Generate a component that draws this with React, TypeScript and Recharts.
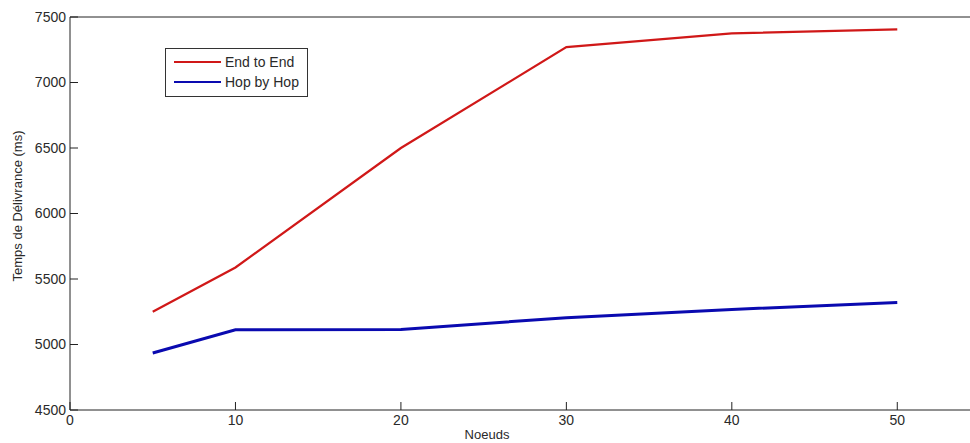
import { LineChart, Line, XAxis, YAxis, Legend } from "recharts";

const nodes = [5, 10, 20, 30, 40, 50];
const endToEnd = [5250, 5588, 6500, 7270, 7375, 7405];
const hopByHop = [4935, 5112, 5115, 5205, 5268, 5320];
const xTicks = [0, 10, 20, 30, 40, 50];
const yTicks = [4500, 5000, 5500, 6000, 6500, 7000, 7500];

const data = nodes.map((n, i) => ({ n, e2e: endToEnd[i], hbh: hopByHop[i] }));

const FONT = '"Liberation Sans", Arial, sans-serif';
const AXIS = "#222";
const TEXT = "#2a2a2a";
const RED = "#d01818";
const BLUE = "#0a0ab0";
const tickFont = { fontSize: 14, fontFamily: FONT, fill: TEXT };

function LegendBox(props: any) {
  const items = props.payload || [];
  return (
    <div
      style={{
        border: "1px solid #333",
        background: "#fff",
        padding: "3px 8px 4px 7px",
        fontFamily: FONT,
        fontSize: 14,
        color: TEXT,
        lineHeight: "20px",
      }}
    >
      {items.map((it: any) => (
        <div key={it.value} style={{ display: "flex", alignItems: "center", whiteSpace: "nowrap" }}>
          <svg width={52} height={20}>
            <line x1={1} y1={10} x2={48} y2={10} stroke={it.color} strokeWidth={2} />
          </svg>
          <span>{it.value}</span>
        </div>
      ))}
    </div>
  );
}

const titleStyle: React.CSSProperties = {
  position: "absolute",
  fontFamily: FONT,
  fontSize: 13,
  color: TEXT,
  whiteSpace: "nowrap",
  lineHeight: "15px",
};

export default function App() {
  return (
    <div
      style={{ position: "fixed", left: 0, top: 0, width: 970, height: 443, overflow: "hidden", background: "#fff" }}
    >
      <LineChart width={1000} height={443} data={data} margin={{ top: 16, right: 20, bottom: 0, left: 0 }}>
        {/* negative tickSize: MATLAB ticks pointing into the box */}
        <XAxis
          dataKey="n"
          type="number"
          domain={[0, 55]}
          ticks={xTicks}
          height={33}
          tickSize={-8}
          tickMargin={13}
          tickLine={{ stroke: AXIS }}
          axisLine={{ stroke: AXIS }}
          tick={tickFont}
        />
        <XAxis
          xAxisId="top"
          orientation="top"
          dataKey="n"
          type="number"
          domain={[0, 55]}
          ticks={xTicks}
          height={1}
          tickSize={-8}
          tickLine={{ stroke: AXIS }}
          axisLine={{ stroke: AXIS }}
          tick={false}
        />
        <YAxis
          type="number"
          domain={[4500, 7500]}
          ticks={yTicks}
          width={70}
          tickSize={-8}
          tickMargin={12}
          tickLine={{ stroke: AXIS }}
          axisLine={{ stroke: AXIS }}
          tick={tickFont}
        />
        <Legend
          layout="vertical"
          align="center"
          verticalAlign="middle"
          content={<LegendBox />}
          wrapperStyle={{ top: 48, left: 165, width: "auto", height: "auto" }}
        />
        <Line
          dataKey="e2e"
          name="End to End"
          stroke={RED}
          strokeWidth={2.2}
          dot={false}
          isAnimationActive={false}
        />
        <Line
          dataKey="hbh"
          name="Hop by Hop"
          stroke={BLUE}
          strokeWidth={3}
          dot={false}
          isAnimationActive={false}
        />
      </LineChart>
      <div style={{ ...titleStyle, left: 487, top: 427, transform: "translateX(-50%)" }}>Noeuds</div>
      <div
        style={{
          ...titleStyle,
          left: 17,
          top: 206,
          transform: "translate(-50%, -50%) rotate(-90deg)",
        }}
      >
        Temps de Délivrance (ms)
      </div>
    </div>
  );
}
